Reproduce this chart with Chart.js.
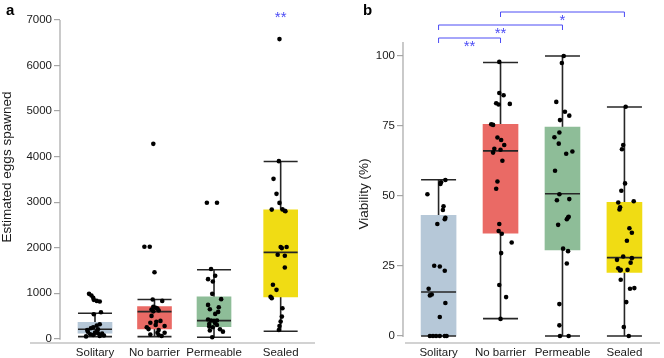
<!DOCTYPE html>
<html>
<head>
<meta charset="utf-8">
<script src="https://cdn.jsdelivr.net/npm/chart.js@4.4.1/dist/chart.umd.min.js"></script>
<style>
  body { margin: 0; background: #fff; }
  #panelA { position: absolute; left: 0; top: 0; }
  #panelB { position: absolute; left: 330px; top: 0; }
</style>
</head>
<body>
<canvas id="panelA" width="330" height="358"></canvas>
<canvas id="panelB" width="334" height="358"></canvas>
<script>
const categories = ["Solitary", "No barrier", "Permeable", "Sealed"];
const boxColors = ["#b6c8d8", "#ea6a65", "#8ebd98", "#f0dc14"];

// panel a: estimated eggs spawned
const eggTicks = [0, 1000, 2000, 3000, 4000, 5000, 6000, 7000];
const eggLow = [44, 44, 30, 162];
const eggQ1 = [119, 214, 265, 918];
const eggMedian = [207, 595, 397, 1895];
const eggQ3 = [361, 705, 918, 2828];
const eggHigh = [560, 860, 1513, 3892];

const eggSolitary = [985, 949, 900, 853, 830, 815, 580, 537, 317, 287, 251, 230, 207, 192, 154, 154, 132, 119, 110, 97, 81, 70, 60, 50];
const eggSolitaryJit = [-0.10, -0.06, -0.03, -0.02, 0.03, 0.08, 0.10, -0.02, 0.08, 0.03, -0.03, -0.07, 0.05, -0.13, -0.12, 0.03, 0, 0.05, 0.12, -0.08, -0.03, 0.15, 0.08, -0.15];
const eggNoBarrier = [4280, 2020, 2020, 1460, 860, 830, 700, 680, 660, 640, 620, 600, 500, 390, 370, 350, 300, 280, 250, 210, 190, 130, 130, 90, 80, 60];
const eggNoBarrierJit = [-0.02, -0.17, -0.08, 0, -0.03, 0.13, -0.02, 0.02, 0.05, -0.05, 0.07, -0.02, -0.05, 0.10, 0.03, -0.07, 0.02, 0.17, -0.13, -0.10, 0.07, 0.05, 0.17, -0.07, 0.07, 0.12];
const eggPermeable = [2985, 2985, 1529, 1381, 1308, 1255, 985, 868, 742, 691, 647, 588, 544, 420, 400, 397, 390, 339, 320, 300, 265, 251, 207, 180, 154, 31];
const eggPermeableJit = [-0.12, 0.05, -0.05, 0.02, -0.10, -0.02, -0.03, 0.12, -0.10, 0.08, -0.07, 0.07, 0.02, -0.10, 0.05, -0.05, 0, 0.02, -0.08, 0.05, -0.08, -0.02, 0.10, -0.07, 0.15, -0.03];
const eggSealed = [6580, 3899, 3511, 3181, 2982, 2840, 2835, 2810, 2800, 2013, 2013, 1990, 1843, 1822, 1564, 1183, 1073, 920, 890, 669, 485, 375, 280, 192];
const eggSealedJit = [-0.02, -0.03, -0.12, -0.07, -0.02, 0.03, -0.15, 0.07, 0.08, 0, 0.10, 0.02, -0.05, 0.07, 0.07, -0.13, -0.07, -0.17, -0.15, 0.03, 0.02, 0, -0.02, -0.03];

// panel b: viability (%)
const vibTicks = [0, 25, 50, 75, 100];
const vibLow = [0, 6.2, 0, 0];
const vibQ1 = [0, 36.7, 30.7, 22.7];
const vibMedian = [15.7, 66.1, 50.8, 28];
const vibQ3 = [43.1, 75.6, 74.6, 47.7];
const vibHigh = [55.8, 97.7, 100, 81.8];

const vibSolitary = [55.7, 54.9, 54.3, 50.6, 46.3, 45.0, 42.2, 41.7, 40.0, 25.1, 24.8, 23.3, 16.9, 14.8, 14.5, 11.8, 6.8, 0, 0, 0, 0, 0, 0];
const vibSolitaryJit = [0.11, 0.04, 0.03, -0.18, 0.08, 0.07, 0.11, 0.10, -0.02, -0.07, 0.02, 0.10, -0.16, -0.11, -0.14, 0.11, 0.02, -0.14, -0.09, -0.04, 0.02, 0.10, 0.13];
const vibNoBarrier = [97.9, 86.8, 86.0, 83.1, 82.9, 82.7, 75.6, 75.4, 70.9, 70.0, 68.2, 66.9, 66.5, 65.5, 62.6, 55.2, 52.6, 40.0, 37.5, 36.5, 33.4, 29.6, 18.2, 13.9, 6.1];
const vibNoBarrierJit = [-0.02, -0.02, 0.05, -0.07, 0.15, -0.03, -0.15, -0.12, -0.05, 0.01, 0.06, -0.10, 0, -0.12, 0.03, -0.05, -0.07, -0.02, -0.03, 0.02, 0.18, 0.01, -0.02, 0.09, 0];
const vibPermeable = [100, 97.5, 83.6, 80.1, 78.7, 77.1, 72.7, 71.0, 68.7, 65.9, 65.1, 59.0, 50.6, 48.9, 48.5, 42.6, 42.3, 41.7, 39.7, 31.2, 30.3, 25.9, 11.4, 3.8, 0, 0];
const vibPermeableJit = [0.02, -0.01, -0.10, 0.04, 0.11, -0.04, -0.05, -0.13, -0.06, 0.16, 0.06, -0.12, -0.05, 0.11, -0.09, 0.10, 0.09, 0.07, -0.07, 0.01, 0.09, 0.07, -0.05, -0.05, -0.04, 0.10];
const vibSealed = [81.9, 68.2, 66.7, 54.5, 51.9, 48.1, 47.7, 46.0, 45.2, 38.5, 36.9, 34.0, 28.4, 27.8, 27.2, 26.2, 24.2, 23.6, 23.6, 23.4, 20.1, 17.1, 16.9, 12.1, 3.2, 0];
const vibSealedJit = [0.02, -0.02, -0.04, 0.01, -0.05, 0.15, -0.10, -0.07, -0.08, 0.08, 0.12, 0.04, -0.02, 0.12, -0.12, 0.10, -0.10, -0.06, 0.05, -0.07, -0.06, 0.16, 0.09, 0.03, -0.01, 0.07];

// significance marks (category indices)
const sigA = [{ from: 3, to: 3, text: "**" }];
const sigB = [
  { from: 0, to: 1, text: "**" },
  { from: 0, to: 2, text: "**" },
  { from: 1, to: 3, text: "*" },
];

const FONT = "'Liberation Sans', Arial, Helvetica, sans-serif";
const SIG_COLOR = "#4c4cf5";
const AXIS_COLOR = "#a6a6a6";

function boxPlugin(cfg) {
  return {
    id: "boxParts",
    beforeDatasetsDraw(chart) {
      const { ctx, scales: { x, y } } = chart;
      ctx.save();
      ctx.strokeStyle = "#262626";
      ctx.lineWidth = 1.6;
      cfg.catX.forEach((c, i) => {
        const px = x.getPixelForValue(c);
        ctx.beginPath();
        ctx.moveTo(px, y.getPixelForValue(cfg.low[i]));
        ctx.lineTo(px, y.getPixelForValue(cfg.high[i]));
        ctx.stroke();
      });
      ctx.restore();
    },
    afterDatasetDraw(chart, args) {
      if (args.index !== 1) return;
      const { ctx, scales: { x, y } } = chart;
      const half = cfg.boxWidth / 2;
      ctx.save();
      ctx.strokeStyle = "#262626";
      ctx.lineWidth = 1.6;
      cfg.catX.forEach((c, i) => {
        const px = x.getPixelForValue(c);
        [cfg.low[i], cfg.high[i], cfg.median[i]].forEach(v => {
          const py = y.getPixelForValue(v);
          ctx.beginPath();
          ctx.moveTo(px - half, py);
          ctx.lineTo(px + half, py);
          ctx.stroke();
        });
      });
      ctx.restore();
    },
    afterDraw(chart) {
      const { ctx, chartArea, scales: { x, y } } = chart;
      ctx.save();
      // axis lines
      ctx.strokeStyle = AXIS_COLOR;
      ctx.lineWidth = 1.2;
      ctx.beginPath();
      ctx.moveTo(chartArea.left, y.getPixelForValue(cfg.yTicks[cfg.yTicks.length - 1]) - cfg.yAxisOver);
      ctx.lineTo(chartArea.left, y.getPixelForValue(0) + 1);
      ctx.stroke();
      ctx.beginPath();
      ctx.moveTo(cfg.xAxisStart, chartArea.bottom);
      ctx.lineTo(chartArea.right, chartArea.bottom);
      ctx.stroke();

      // axis title
      ctx.fillStyle = "#1a1a1a";
      ctx.font = "13.5px " + FONT;
      ctx.translate(cfg.titleX, cfg.titleY);
      ctx.rotate(-Math.PI / 2);
      ctx.textAlign = "center";
      ctx.textBaseline = "alphabetic";
      ctx.fillText(cfg.title, 0, 0);
      ctx.setTransform(1, 0, 0, 1, 0, 0);

      // panel letter
      ctx.font = "bold 15px " + FONT;
      ctx.textAlign = "left";
      ctx.fillStyle = "#000";
      ctx.fillText(cfg.letter, cfg.letterX, 15);

      // significance
      ctx.strokeStyle = SIG_COLOR;
      ctx.fillStyle = SIG_COLOR;
      ctx.lineWidth = 1;
      ctx.font = "15px " + FONT;
      ctx.textAlign = "center";
      ctx.textBaseline = "top";
      cfg.sig.forEach((s, k) => {
        const x1 = x.getPixelForValue(cfg.catX[s.from]);
        const x2 = x.getPixelForValue(cfg.catX[s.to]);
        const ly = cfg.sigY[k];
        if (s.from !== s.to) {
          ctx.beginPath();
          ctx.moveTo(x1, ly + 5);
          ctx.lineTo(x1, ly);
          ctx.lineTo(x2, ly);
          ctx.lineTo(x2, ly + 5);
          ctx.stroke();
          ctx.fillText(s.text, (x1 + x2) / 2, ly + 1);
        } else {
          ctx.fillText(s.text, x1, ly);
        }
      });
      ctx.restore();
    },
  };
}

function buildPanel(id, cfg) {
  const points = [];
  cfg.groups.forEach((vals, i) => {
    vals.forEach((v, j) => points.push({ x: cfg.catX[i] + cfg.jitter[i][j], y: v }));
  });
  const boxes = cfg.catX.map((c, i) => ({ x: c, y: [cfg.q1[i], cfg.q3[i]] }));

  new Chart(document.getElementById(id), {
    type: "bar",
    data: {
      datasets: [
        { type: "scatter", data: points, backgroundColor: "#000", pointRadius: 2.3, borderWidth: 0, order: 0 },
        { type: "bar", data: boxes, backgroundColor: boxColors, barThickness: cfg.boxWidth, borderWidth: 0, order: 1 },
      ],
    },
    options: {
      responsive: false,
      animation: false,
      layout: { padding: cfg.padding },
      plugins: { legend: { display: false }, tooltip: { enabled: false } },
      scales: {
        x: {
          type: "linear",
          offset: false,
          min: cfg.xMin,
          max: cfg.xMax,
          grid: { display: false, drawTicks: false, offset: false },
          border: { display: false },
          afterBuildTicks: s => { s.ticks = cfg.catX.map(v => ({ value: v })); },
          afterFit: s => { s.height = 15; },
          ticks: {
            autoSkip: false,
            maxRotation: 0,
            padding: 3,
            color: "#1a1a1a",
            font: { family: FONT, size: 11.5 },
            callback: (v, i) => categories[i],
          },
        },
        y: {
          min: cfg.yMin,
          max: cfg.yMax,
          grid: { drawOnChartArea: false, drawTicks: true, tickLength: 6, color: AXIS_COLOR, lineWidth: 1.2 },
          border: { display: false },
          afterBuildTicks: s => { s.ticks = cfg.yTicks.map(v => ({ value: v })); },
          afterFit: s => { s.width = cfg.yWidth; },
          ticks: {
            padding: 2,
            color: "#1a1a1a",
            font: { family: FONT, size: 11.5 },
            callback: v => String(v),
          },
        },
      },
    },
    plugins: [boxPlugin(cfg)],
  });
}

buildPanel("panelA", {
  catX: [0, 1, 2, 3.12],
  xMin: -0.588, xMax: 3.697,
  yMin: -95, yMax: 7000, yTicks: eggTicks, yWidth: 60,
  padding: { left: 0, right: 15, top: 20, bottom: 0 },
  boxWidth: 34,
  low: eggLow, q1: eggQ1, median: eggMedian, q3: eggQ3, high: eggHigh,
  groups: [eggSolitary, eggNoBarrier, eggPermeable, eggSealed],
  jitter: [eggSolitaryJit, eggNoBarrierJit, eggPermeableJit, eggSealedJit],
  xAxisStart: 30, yAxisOver: 0,
  title: "Estimated eggs spawned", titleX: 11, titleY: 167,
  letter: "a", letterX: 6,
  sig: sigA, sigY: [10],
});

buildPanel("panelB", {
  catX: [0, 1, 2, 3],
  xMin: -0.574, xMax: 3.574,
  yMin: -2.5, yMax: 105, yTicks: vibTicks, yWidth: 73,
  padding: { left: 0, right: 1, top: 42, bottom: 0 },
  boxWidth: 35,
  low: vibLow, q1: vibQ1, median: vibMedian, q3: vibQ3, high: vibHigh,
  groups: [vibSolitary, vibNoBarrier, vibPermeable, vibSealed],
  jitter: [vibSolitaryJit, vibNoBarrierJit, vibPermeableJit, vibSealedJit],
  xAxisStart: 75, yAxisOver: 14,
  title: "Viability (%)", titleX: 38, titleY: 194,
  letter: "b", letterX: 33,
  sig: sigB, sigY: [38, 25, 12],
});
</script>
</body>
</html>
